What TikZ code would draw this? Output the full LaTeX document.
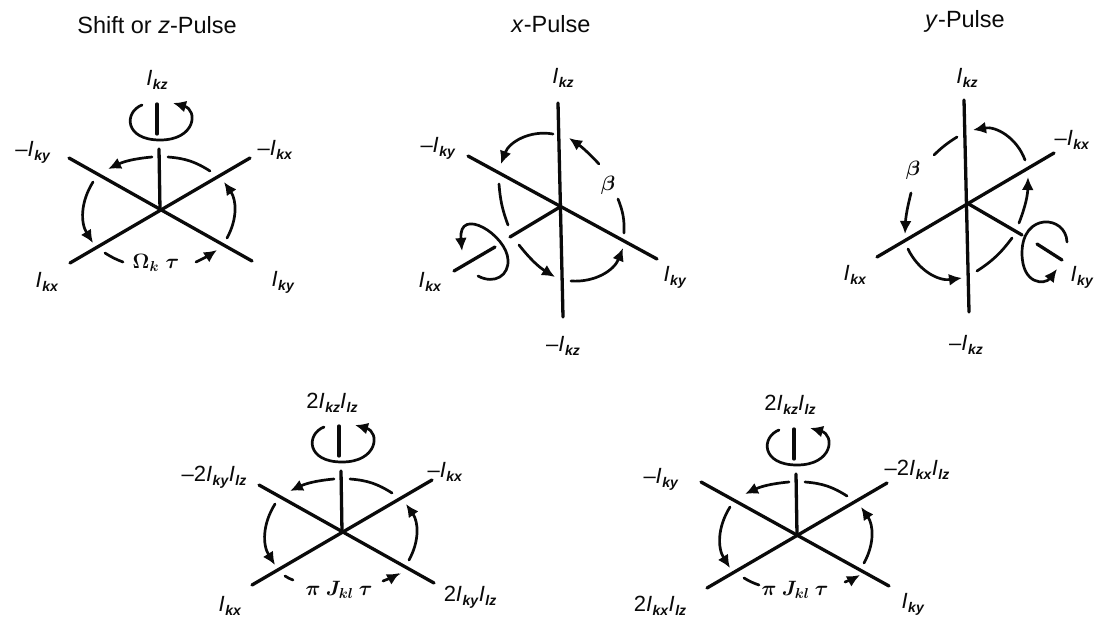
\documentclass[tikz,border=0pt]{standalone}
\usepackage{amsmath, amssymb}
\usepackage{fontspec}
\setmainfont{Liberation Sans}
\usepackage{tikz}
\usetikzlibrary{arrows.meta, positioning}
\definecolor{mInk}{HTML}{0A0A0A}
\newcommand{\Iop}[1]{\textit{I}\kern.5pt\raisebox{-4pt}{\fontsize{14}{14}\selectfont\textbf{\textit{#1}}}}
\tikzset{
  axisline/.style={draw=mInk, line width=3.3pt, line cap=round},
  rotarc/.style={draw=mInk, line width=2.7pt, line cap=round},
  rotarrow/.style={rotarc, -{Latex[length=13pt,width=12pt]}},
  axislabel/.style={text=mInk, inner sep=0pt, font=\fontsize{22}{22}\selectfont},
  mathlabel/.style={text=mInk, inner sep=0pt, font=\fontsize{22}{22}\selectfont\boldmath},
  pulsetitle/.style={text=mInk, inner sep=0pt, anchor=base, font=\fontsize{23.5}{24}\selectfont}
}
% #1 prefix, #2 centre, #3/#4 short dash, #5 start of bottom arrow, #6 end of bottom arrow, #7 upper left end
\newcommand{\zframe}[7]{
  \begin{scope}[shift={#2}, name prefix=#1-]
    \coordinate (o) at (0,0);
    \coordinate (ul) at #7;
    \coordinate (lr) at (92,51);
    \coordinate (ll) at (-90,53);
    \coordinate (ur) at (90,-52);
    \coordinate (t) at (-1,-61);
    \coordinate (ta) at (-3,-106);
    \coordinate (tb) at (-3,-76);
    \draw[axisline] (ul) -- (lr);
    \draw[axisline] (ll) -- (ur);
    \draw[axisline] (t) -- (o);
    \draw[axisline] (ta) -- (tb);
    \draw[rotarrow] (-18,-105) .. controls (-36,-98) and (-36,-70) .. (0,-70) .. controls (36,-70) and (38,-100) .. (13,-107);
    \draw[rotarc] (50,-39) to[bend right=14] (8,-53);
    \draw[rotarrow] (-8,-53) to[bend right=10] (-52,-41);
    \draw[rotarrow] (-67,-28) to[bend right=32] (-67,33);
    \draw[rotarc] #3 to[bend right=6] #4;
    \draw[rotarrow] #5 to[bend right=4] #6;
    \draw[rotarrow] (67,28) to[bend right=32] (64,-28);
  \end{scope}
}
\begin{document}
\begin{tikzpicture}[x=1pt, y=-1pt]
  \useasboundingbox (0,0) rectangle (1094,618);
  \node[pulsetitle] (title1) at (157,34) {Shift or \textit{z}-Pulse};
  \node[pulsetitle] (title2) at (551,33) {\textit{x}-Pulse};
  \node[pulsetitle] (title3) at (965,28) {\textit{y}-Pulse};

  % shift
  \zframe{s}{(160,210)}{(-55,43)}{(-37,52)}{(36,52)}{(57,40)}{(-91,-52)}
  \node[axislabel] (skz) at (157,80) {\Iop{kz}};
  \node[axislabel] (smky) at (33,152) {--\Iop{ky}};
  \node[axislabel] (smkx) at (275,150) {--\Iop{kx}};
  \node[axislabel] (skx) at (47,282) {\Iop{kx}};
  \node[axislabel] (sky) at (283,282) {\Iop{ky}};
  \node[mathlabel] (somega) at (156,263) {$\Omega_{k}\;\tau$};

  % x pulse
  \coordinate (xo) at (560,207);
  \coordinate (xt) at (558,103);
  \coordinate (xb) at (563,317);
  \coordinate (xul) at (468,156);
  \coordinate (xlr) at (657,259);
  \coordinate (xin) at (510,237);
  \coordinate (xa) at (495,247);
  \coordinate (xe) at (454,271);
  \draw[axisline] (xt) -- (xb);
  \draw[axisline] (xul) -- (xlr);
  \draw[axisline] (xo) -- (xin);
  \draw[axisline] (xa) -- (xe);
  \draw[rotarrow] (478,276) .. controls (495,285) and (509,275) .. (508,260) .. controls (507,235) and (458,205) .. (462,251);
  \draw[rotarrow] (553,134) to[bend right=40] (501,164);
  \draw[rotarc] (499,184) to[bend right=8] (508,225);
  \draw[rotarrow] (519,245) to[bend right=10] (555,277);
  \draw[rotarrow] (571,281) to[bend right=36] (623,248);
  \draw[rotarc] (624,233) to[bend right=12] (618,199);
  \draw[rotarrow] (599,164) to[bend right=6] (569,138);
  \node[mathlabel] (xbeta) at (608,185) {$\beta$};
  \node[axislabel] (xkz) at (563,78) {\Iop{kz}};
  \node[axislabel] (xmky) at (438,148) {--\Iop{ky}};
  \node[axislabel] (xky) at (675,277) {\Iop{ky}};
  \node[axislabel] (xkx) at (430,282) {\Iop{kx}};
  \node[axislabel] (xmkz) at (563,346) {--\Iop{kz}};

  % y pulse
  \coordinate (yo) at (967,203);
  \coordinate (yt) at (964,100);
  \coordinate (yb) at (969,312);
  \coordinate (yll) at (877,257);
  \coordinate (yur) at (1054,153);
  \coordinate (yin) at (1022,235);
  \coordinate (ya) at (1037,244);
  \coordinate (ye) at (1062,260);
  \draw[axisline] (yt) -- (yb);
  \draw[axisline] (yll) -- (yur);
  \draw[axisline] (yo) -- (yin);
  \draw[axisline] (ya) -- (ye);
  \draw[rotarrow] (1067,242) .. controls (1066,215) and (1022,212) .. (1022,253) .. controls (1022,285) and (1045,285) .. (1057,269);
  \draw[rotarrow] (1025,160) to[bend right=40] (973,130);
  \draw[rotarc] (957,137) to[bend right=6] (934,155);
  \draw[rotarrow] (911,193) to[bend right=6] (905,234);
  \draw[rotarrow] (908,249) to[bend right=36] (962,278);
  \draw[rotarc] (977,271) to[bend right=10] (1012,238);
  \draw[rotarrow] (1019,223) to[bend right=10] (1028,177);
  \node[mathlabel] (ybeta) at (913,170) {$\beta$};
  \node[axislabel] (ykz) at (967,78) {\Iop{kz}};
  \node[axislabel] (ymkx) at (1072,140) {--\Iop{kx}};
  \node[axislabel] (ykx) at (855,275) {\Iop{kx}};
  \node[axislabel] (yky) at (1082,277) {\Iop{ky}};
  \node[axislabel] (ymkz) at (966,345) {--\Iop{kz}};

  % coupling, left
  \zframe{c}{(342,532)}{(-57,44)}{(-49,48)}{(41,49)}{(58,41)}{(-83,-47)}
  \node[axislabel] (ckz) at (332,403) {2\Iop{kz}\Iop{lz}};
  \node[axislabel] (cmky) at (214,477) {--2\Iop{ky}\Iop{lz}};
  \node[axislabel] (cmkx) at (445,472) {--\Iop{kx}};
  \node[axislabel] (ckx) at (230,606) {\Iop{kx}};
  \node[axislabel] (cky) at (470,597) {2\Iop{ky}\Iop{lz}};
  \node[mathlabel] (cpi) at (339,590) {$\pi\:J_{kl}\:\tau$};

  % coupling, right
  \zframe{d}{(797,535)}{(-53,43)}{(-38,50)}{(48,47)}{(63,40)}{(-96,-53)}
  \node[axislabel] (dkz) at (790,405) {2\Iop{kz}\Iop{lz}};
  \node[axislabel] (dmky) at (661,479) {--\Iop{ky}};
  \node[axislabel] (dmkx) at (917,470) {--2\Iop{kx}\Iop{lz}};
  \node[axislabel] (dkx) at (660,606) {2\Iop{kx}\Iop{lz}};
  \node[axislabel] (dky) at (913,604) {\Iop{ky}};
  \node[mathlabel] (dpi) at (795,590) {$\pi\:J_{kl}\:\tau$};
\end{tikzpicture}
\end{document}
